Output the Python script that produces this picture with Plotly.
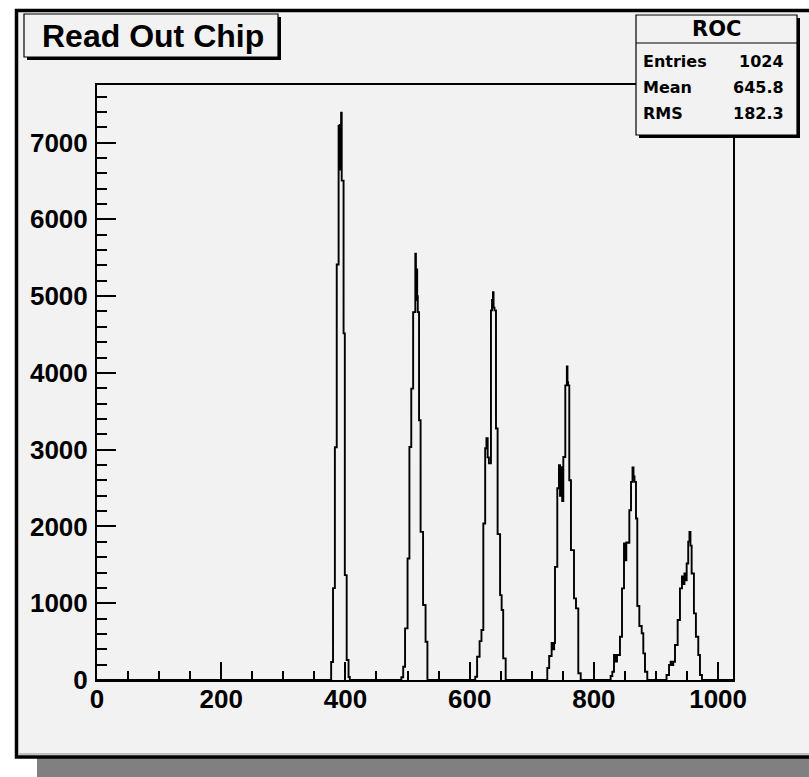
import plotly.graph_objects as go

# ---------------- data (bin edges in ADC units, counts) ----------------
peak1_edges = [377, 380, 383, 386, 389, 390, 391, 392, 393, 394, 397, 399, 402, 405, 407]
peak1_counts = [234, 1197, 3031, 5412, 7221, 6650, 7230, 6700, 7390, 6505, 4515, 1366, 260, 40]

peak2_edges = [490, 493, 496, 500, 503, 506, 509, 512.5, 513.5, 514.5, 515.5, 516.5, 518.5, 521, 525, 529, 532]
peak2_counts = [35, 173, 673, 1583, 3035, 3795, 4792, 5552, 4950, 5347, 5000, 4792, 3383, 1929, 976, 498]

peak3_edges = [609, 612, 616, 619, 622, 625, 627, 629, 631, 634.3, 636, 637.5, 638.5, 640, 642.4, 645, 649, 651.5, 654, 658]
peak3_counts = [43, 303, 507, 651, 2039, 3018, 3149, 2900, 2823, 4814, 4950, 5052, 4850, 4814, 3275, 1900, 1106, 911, 282]

peak4_edges = [725, 728, 732, 734.5, 736, 737.4, 741.1, 743.8, 745.5, 747, 749, 750.8, 754, 756.5, 757.5, 758.5, 760.4, 763.1, 768, 771.2, 774.9, 778.8]
peak4_counts = [156, 312, 482, 400, 482, 1474, 2498, 2797, 2400, 2773, 2330, 2905, 3838, 4085, 3880, 3838, 2602, 1691, 1063, 933, 87]

peak5_edges = [827, 829.7, 832.4, 834.8, 837.2, 842, 845.3, 848.5, 850.4, 852.2, 854, 857.1, 859.8, 862.2, 863.8, 865.4, 867.8, 869.9, 873.2, 877, 879.6, 882.3, 886]
peak5_counts = [52, 108, 325, 240, 325, 564, 1193, 1780, 1560, 1790, 1786, 2212, 2580, 2767, 2650, 2580, 2104, 963, 703, 608, 347, 108]

peak6_edges = [917, 921, 923.6, 926.2, 927.8, 930.6, 934.9, 938.6, 941.8, 943.4, 945.8, 947.4, 949.4, 951.9, 953.9, 955.5, 957.4, 961.1, 964.3, 968.1, 970.8, 974]
peak6_counts = [65, 195, 238, 195, 238, 455, 781, 1193, 1350, 1250, 1388, 1300, 1518, 1800, 1929, 1750, 1388, 868, 564, 325, 65]

x_range = [0, 1024]
y_max = 7750

title_text = "Read Out Chip"
stats_name = "ROC"
stats_labels = ["Entries", "Mean", "RMS"]
stats_values = ["1024", "645.8", "182.3"]

# ---------------- build step outline ----------------
peaks = [(peak1_edges, peak1_counts), (peak2_edges, peak2_counts), (peak3_edges, peak3_counts),
         (peak4_edges, peak4_counts), (peak5_edges, peak5_counts), (peak6_edges, peak6_counts)]
xs = [x_range[0]]
ys = [0]
for edges, counts in peaks:
    for e, c in zip(edges[:-1], counts):
        xs.append(e)
        ys.append(c)
    xs.append(edges[-1])
    ys.append(0)
xs.append(x_range[1])
ys.append(0)

fig = go.Figure()
fig.add_trace(go.Scatter(x=xs, y=ys, mode="lines",
                         line=dict(color="black", width=1.9, shape="hv"),
                         hoverinfo="skip", showlegend=False))

# ---------------- layout geometry (pixels) ----------------
W, H = 809, 777
L, T, R, B = 97, 85, 733, 680
PW, PH = R - L, B - T


def px(x):
    return (x - L) / PW


def py(y):
    return (B - y) / PH


PAD = "#f2f2f2"
shapes = []
# shadow of the pad
shapes.append(dict(type="rect", xref="paper", yref="paper", layer="below",
                   x0=px(37), x1=px(840), y0=py(790), y1=py(32),
                   fillcolor="#808080", line=dict(width=0)))
# pad
shapes.append(dict(type="rect", xref="paper", yref="paper", layer="below",
                   x0=px(16.5), x1=px(830), y0=py(757), y1=py(10.5),
                   fillcolor=PAD, line=dict(color="black", width=3.5)))
shapes.append(dict(type="line", xref="paper", yref="paper", layer="below",
                   x0=px(19), x1=px(830), y0=py(754), y1=py(754),
                   line=dict(color="#c0c0c0", width=2)))
# title box shadow + box
shapes.append(dict(type="rect", xref="paper", yref="paper", layer="above",
                   x0=px(27), x1=px(281), y0=py(60), y1=py(17),
                   fillcolor="black", line=dict(width=0)))
shapes.append(dict(type="rect", xref="paper", yref="paper", layer="above",
                   x0=px(24), x1=px(278), y0=py(57), y1=py(14),
                   fillcolor=PAD, line=dict(color="black", width=1.2)))
# stats box shadow + box
shapes.append(dict(type="rect", xref="paper", yref="paper", layer="above",
                   x0=px(639), x1=px(800), y0=py(138), y1=py(18),
                   fillcolor="black", line=dict(width=0)))
shapes.append(dict(type="rect", xref="paper", yref="paper", layer="above",
                   x0=px(636), x1=px(797), y0=py(135), y1=py(15),
                   fillcolor=PAD, line=dict(color="black", width=1.2)))
shapes.append(dict(type="line", xref="paper", yref="paper", layer="above",
                   x0=px(636), x1=px(797), y0=py(43), y1=py(43),
                   line=dict(color="black", width=1.2)))

BOLD = dict(family="DejaVu Sans", color="black", weight="bold")
annotations = [
    dict(text=title_text, xref="paper", yref="paper", x=px(153), y=py(35.5),
         xanchor="center", yanchor="middle", showarrow=False,
         font=dict(size=32, family="Liberation Sans", color="black", weight="bold")),
    dict(text=stats_name, xref="paper", yref="paper", x=px(716), y=py(29),
         xanchor="center", yanchor="middle", showarrow=False,
         font=dict(size=21, **BOLD)),
]
row_y = [62, 87.5, 113]
for lab, val, yy in zip(stats_labels, stats_values, row_y):
    annotations.append(dict(text=lab, xref="paper", yref="paper", x=px(641), y=py(yy),
                            xanchor="left", yanchor="middle", showarrow=False,
                            font=dict(size=16, **BOLD)))
    annotations.append(dict(text=val, xref="paper", yref="paper", x=px(786), y=py(yy),
                            xanchor="right", yanchor="middle", showarrow=False,
                            font=dict(size=16, **BOLD)))

TICKFONT = dict(family="Liberation Sans", size=26, color="black", weight="bold")
fig.update_layout(
    width=W, height=H, autosize=False,
    margin=dict(l=L, r=W - R, t=T, b=H - B, pad=0),
    paper_bgcolor="white", plot_bgcolor="rgba(0,0,0,0)",
    shapes=shapes, annotations=annotations,
    xaxis=dict(range=x_range, showline=True, linecolor="black", linewidth=2, mirror=True,
               ticks="inside", ticklen=18, tickwidth=1.5, tickcolor="black",
               tickmode="linear", tick0=0, dtick=200, tickfont=TICKFONT,
               ticklabelstandoff=-5,
               showgrid=False, zeroline=False,
               minor=dict(ticks="inside", ticklen=9, tickwidth=1.5, tickcolor="black",
                          dtick=50, tick0=0, showgrid=False)),
    yaxis=dict(range=[0, y_max], showline=True, linecolor="black", linewidth=2, mirror=True,
               ticks="inside", ticklen=19, tickwidth=1.5, tickcolor="black",
               tickmode="linear", tick0=0, dtick=1000, tickfont=TICKFONT,
               ticklabelstandoff=2,
               showgrid=False, zeroline=False,
               minor=dict(ticks="inside", ticklen=10, tickwidth=1.5, tickcolor="black",
                          dtick=200, tick0=0, showgrid=False)),
)

fig.write_html("out.html")
